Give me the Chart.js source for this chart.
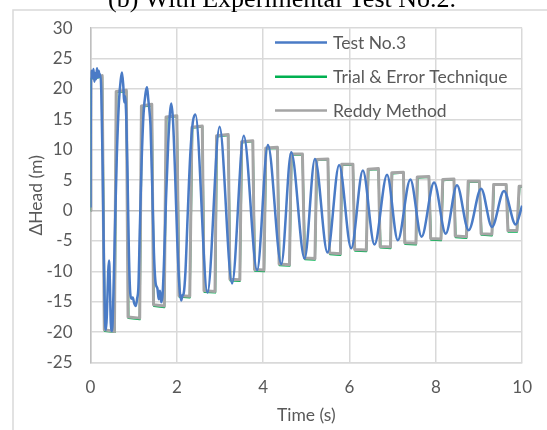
<!DOCTYPE html>
<html>
<head>
<meta charset="utf-8">
<script src="https://cdn.jsdelivr.net/npm/chart.js@4.4.1/dist/chart.umd.min.js"></script>
<style>
  html, body { margin: 0; padding: 0; background: #fff; }
  #wrap { width: 547px; height: 430px; }
</style>
</head>
<body>
<div id="wrap"><canvas id="headChart"></canvas></div>
<script>
// Test No.3 (measured)
const testT = [0, 0.01, 0.03, 0.05, 0.07, 0.09, 0.11, 0.13, 0.15, 0.17, 0.19, 0.21, 0.23, 0.25, 0.28, 0.31, 0.34, 0.36, 0.38, 0.41, 0.43, 0.45, 0.47, 0.50, 0.53, 0.57, 0.61, 0.66, 0.70, 0.73, 0.76, 0.78, 0.80, 0.83, 0.86, 0.89, 0.92, 0.95, 0.98, 1.01, 1.05, 1.08, 1.11, 1.14, 1.18, 1.23, 1.28, 1.31, 1.34, 1.36, 1.39, 1.43, 1.47, 1.51, 1.55, 1.58, 1.61, 1.64, 1.67, 1.70, 1.75, 1.80, 1.84, 1.87, 1.91, 1.96, 2.01, 2.06, 2.10, 2.13, 2.16, 2.20, 2.25, 2.31, 2.37, 2.43, 2.71, 2.99, 3.28, 3.55, 3.86, 4.11, 4.42, 4.65, 4.96, 5.20, 5.49, 5.76, 6.04, 6.31, 6.58, 6.87, 7.12, 7.41, 7.67, 7.96, 8.23, 8.49, 8.76, 9.05, 9.30, 9.58, 9.85, 10.0];
const testV = [0.5, 21.5, 23.0, 21.8, 23.3, 21.2, 22.6, 21.6, 23.4, 21.9, 23.0, 22.0, 22.4, 19.5, 8, -8, -18.5, -19.6, -17, -10, -8.2, -12, -18.5, -19.8, -14, -2, 9, 18, 21.5, 22.7, 20.5, 17.8, 18.8, 15, 5, -7, -13.5, -14.5, -14.3, -15.2, -15.7, -14.5, -12.5, -4, 7, 16, 19.5, 20.3, 18.2, 16.8, 14, 4, -7, -12, -12.8, -14.6, -13.2, -15.1, -13.8, -9, 2, 11, 16, 17.6, 15, 6, -5, -12.5, -14.8, -14, -13.6, -10, -1, 9, 14.5, 15.8, -13.5, 13.8, -12.0, 12.3, -9.8, 10.8, -8.8, 9.6, -7.9, 8.5, -6.9, 7.5, -6.2, 6.6, -5.6, 5.9, -4.9, 5.1, -4.3, 4.6, -3.8, 4.15, -3.25, 3.6, -2.7, 3.2, -2.3, 0.8];

// Trial & Error Technique
const trialT = [0, 0.01, 0.27, 0.33, 0.56, 0.60, 0.83, 0.88, 1.14, 1.19, 1.42, 1.47, 1.71, 1.76, 2.00, 2.06, 2.30, 2.36, 2.59, 2.64, 2.89, 2.93, 3.19, 3.24, 3.46, 3.51, 3.76, 3.81, 4.02, 4.07, 4.33, 4.38, 4.61, 4.66, 4.91, 4.97, 5.20, 5.25, 5.50, 5.55, 5.79, 5.83, 6.08, 6.13, 6.39, 6.44, 6.67, 6.72, 6.95, 6.99, 7.25, 7.29, 7.54, 7.58, 7.84, 7.89, 8.12, 8.17, 8.42, 8.46, 8.71, 8.76, 9.01, 9.06, 9.30, 9.35, 9.63, 9.68, 9.88, 9.94, 10.0];
const trialV = [0, 21.7, 22.0, -19.8, -20.0, 19.5, 19.6, -17.7, -17.9, 17.1, 17.3, -15.7, -15.9, 15.3, 15.5, -14.2, -14.3, 13.6, 13.8, -13.4, -13.5, 12.2, 12.4, -11.5, -11.6, 11.2, 11.4, -9.9, -10.0, 10.2, 10.3, -9.0, -9.1, 9.2, 9.2, -8.0, -8.1, 8.3, 8.4, -7.2, -7.3, 7.5, 7.5, -6.6, -6.7, 6.7, 6.8, -6.1, -6.2, 6.1, 6.2, -5.5, -5.6, 5.4, 5.5, -4.8, -4.9, 5.0, 5.1, -4.4, -4.5, 4.7, 4.7, -4.0, -4.1, 4.2, 4.2, -3.5, -3.5, 3.9, 3.9];

// Reddy Method
const reddyT = [0, 0.01, 0.27, 0.32, 0.555, 0.595, 0.83, 0.87, 1.14, 1.18, 1.42, 1.46, 1.71, 1.75, 2.00, 2.05, 2.30, 2.35, 2.59, 2.63, 2.885, 2.92, 3.19, 3.23, 3.46, 3.50, 3.76, 3.80, 4.02, 4.06, 4.33, 4.37, 4.61, 4.65, 4.91, 4.96, 5.20, 5.24, 5.50, 5.54, 5.79, 5.82, 6.08, 6.12, 6.39, 6.43, 6.67, 6.71, 6.95, 6.98, 7.25, 7.28, 7.54, 7.57, 7.84, 7.88, 8.12, 8.16, 8.42, 8.45, 8.71, 8.75, 9.01, 9.05, 9.30, 9.34, 9.63, 9.67, 9.88, 9.93, 10.0];
const reddyV = [0, 21.8, 22.2, -19.6, -19.9, 19.6, 19.8, -17.5, -17.7, 17.2, 17.5, -15.5, -15.7, 15.4, 15.6, -14.0, -14.1, 13.7, 13.9, -13.2, -13.3, 12.3, 12.5, -11.3, -11.4, 11.3, 11.5, -9.7, -9.8, 10.3, 10.4, -8.8, -8.9, 9.3, 9.3, -7.8, -7.9, 8.4, 8.5, -7.0, -7.1, 7.6, 7.6, -6.4, -6.5, 6.8, 6.9, -5.9, -6.0, 6.2, 6.3, -5.3, -5.4, 5.5, 5.6, -4.6, -4.7, 5.1, 5.2, -4.2, -4.3, 4.8, 4.8, -3.8, -3.9, 4.3, 4.3, -3.3, -3.3, 4.0, 4.0];

const xTicks = [0, 2, 4, 6, 8, 10];
const yTicks = [-25, -20, -15, -10, -5, 0, 5, 10, 15, 20, 25, 30];

const toPts = (ts, vs) => ts.map((t, i) => ({ x: t, y: vs[i] }));

const textColor = '#595959';
const gridColor = '#d9d9d9';

// titles, legend and outer frame
const decor = {
  id: 'decor',
  afterDraw(chart) {
    const ctx = chart.ctx;
    const area = chart.chartArea;
    ctx.save();

    // outer frame (cut off at right and bottom)
    ctx.strokeStyle = gridColor;
    ctx.lineWidth = 1.5;
    ctx.beginPath();
    ctx.moveTo(13, 430);
    ctx.lineTo(13, 10);
    ctx.lineTo(547, 10);
    ctx.stroke();

    // figure title, mostly clipped at the top
    ctx.fillStyle = '#000';
    ctx.font = '26px "Liberation Serif"';
    ctx.textAlign = 'center';
    ctx.textBaseline = 'alphabetic';
    ctx.fillText('(b) With Experimental Test No.2.', 282, 6.5);

    // axis titles
    ctx.fillStyle = textColor;
    ctx.font = '17.5px Lato';
    ctx.textBaseline = 'middle';
    ctx.fillText('Time (s)', (area.left + area.right) / 2, 415);
    ctx.save();
    ctx.translate(36, (area.top + area.bottom) / 2);
    ctx.rotate(-Math.PI / 2);
    ctx.fillText('\u0394Head (m)', 0, 0);
    ctx.restore();

    // legend
    ctx.font = '100px Lato';
    const fit = 100 * 175 / ctx.measureText('Trial & Error Technique').width;
    ctx.font = fit.toFixed(1) + 'px Lato';
    ctx.textAlign = 'left';
    const rows = [42.5, 76.7, 110.5];
    chart.data.datasets.forEach((ds, i) => {
      const y = rows[i];
      ctx.strokeStyle = ds.borderColor;
      ctx.lineWidth = 2.5;
      ctx.beginPath();
      ctx.moveTo(275, y);
      ctx.lineTo(327, y);
      ctx.stroke();
      ctx.fillStyle = textColor;
      ctx.fillText(ds.label, 333, y + 1);
    });

    ctx.restore();
  }
};

new Chart(document.getElementById('headChart'), {
  type: 'scatter',
  data: {
    datasets: [
      {
        label: 'Test No.3',
        data: toPts(testT, testV),
        showLine: true,
        borderColor: '#4a7bc6',
        borderWidth: 2.5,
        pointRadius: 0,
        cubicInterpolationMode: 'monotone',
        order: 0
      },
      {
        label: 'Trial & Error Technique',
        data: toPts(trialT, trialV),
        showLine: true,
        borderColor: '#00b050',
        borderWidth: 2,
        pointRadius: 0,
        borderJoinStyle: 'round',
        order: 2
      },
      {
        label: 'Reddy Method',
        data: toPts(reddyT, reddyV),
        showLine: true,
        borderColor: '#a5a5a5',
        borderWidth: 3,
        pointRadius: 0,
        borderJoinStyle: 'round',
        order: 1
      }
    ]
  },
  options: {
    responsive: true,
    maintainAspectRatio: false,
    animation: false,
    layout: { padding: { left: 13, top: 23.3, right: 21, bottom: 0 } },
    plugins: {
      legend: { display: false },
      tooltip: { enabled: false }
    },
    scales: {
      x: {
        type: 'linear',
        min: 0,
        max: 10,
        afterBuildTicks: s => { s.ticks = xTicks.map(v => ({ value: v })); },
        afterFit: s => { s.height = 67.5; },
        grid: { color: gridColor, lineWidth: 1.5, drawTicks: false },
        border: { color: gridColor, width: 1.5 },
        ticks: { color: textColor, font: { family: 'Lato', size: 17 }, padding: 15, maxRotation: 0 }
      },
      y: {
        type: 'linear',
        min: -25,
        max: 30,
        afterBuildTicks: s => { s.ticks = yTicks.map(v => ({ value: v })); },
        afterFit: s => { s.width = 77.5; },
        grid: {
          color: c => (c.tick && c.tick.value === 0 ? '#bfbfbf' : gridColor),
          lineWidth: 1.5,
          drawTicks: false
        },
        border: { color: '#bfbfbf', width: 1.5 },
        ticks: { color: textColor, font: { family: 'Lato', size: 17 }, padding: 18 }
      }
    }
  },
  plugins: [decor]
});
</script>
</body>
</html>
